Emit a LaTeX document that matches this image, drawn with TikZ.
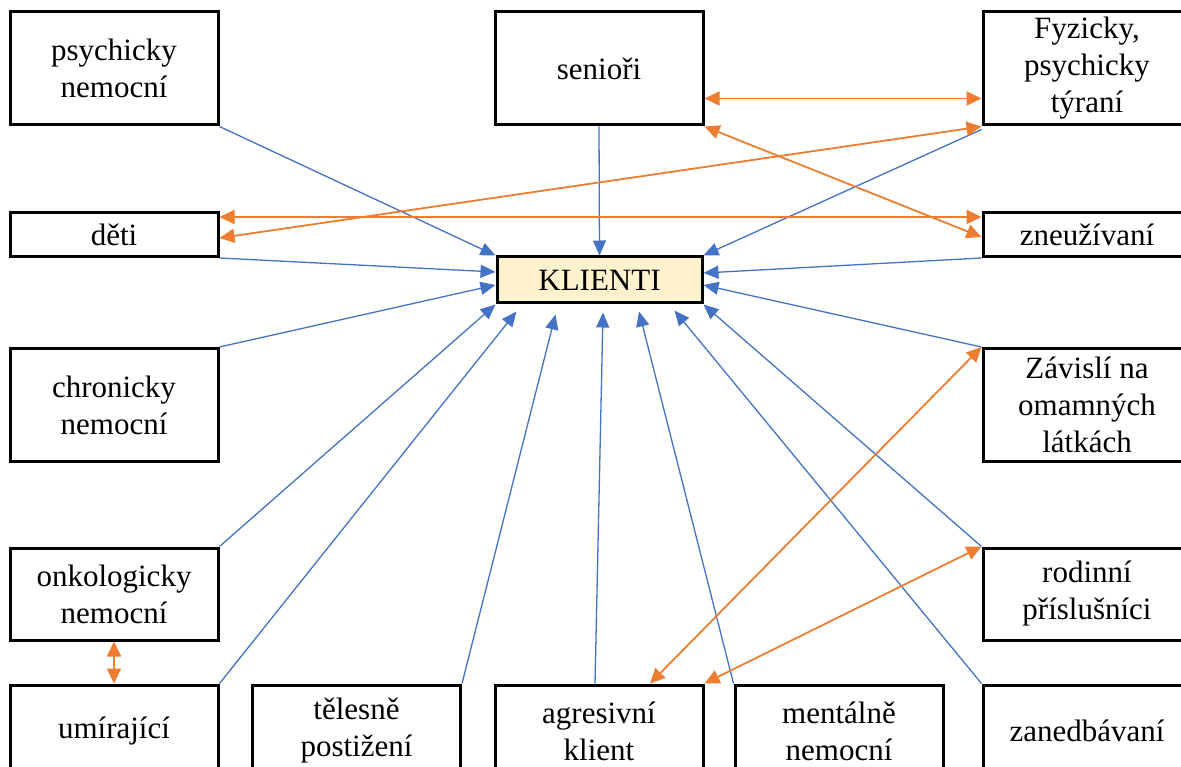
\documentclass[tikz,border=0pt]{standalone}
\usepackage{fontspec}
\setmainfont{Liberation Serif}
\usetikzlibrary{arrows.meta}
\definecolor{linkblue}{RGB}{68,114,196}
\definecolor{linkorange}{RGB}{237,125,49}
\definecolor{klientfill}{RGB}{255,242,204}
\begin{document}
\begin{tikzpicture}[x=1pt,y=-1pt,
box/.style={draw,rectangle,line width=3pt,inner sep=0pt,minimum width=208pt,minimum height=113pt,align=center,font=\fontsize{31}{37}\selectfont},
flatbox/.style={box,minimum height=44pt},
midbox/.style={box,minimum height=92pt},
toklient/.style={linkblue,line width=1.3pt,-{Triangle[length=15pt,width=13pt]}},
pair/.style={linkorange,line width=1.8pt,{Triangle[length=15pt,width=14pt]}-{Triangle[length=15pt,width=14pt]}}]

\useasboundingbox (0,0) rectangle (1181,767);
\clip (0,0) rectangle (1181,767);

\node[box] (psych) at (114,68.5) {psychicky\\nemocní};
\node[box] (senior) at (599,68.5) {senioři};
\node[box] (fyz) at (1087,68.5) {Fyzicky,\\psychicky\\týraní};
\node[flatbox] (deti) at (114,234.5) {děti};
\node[flatbox] (zneuz) at (1087,234.5) {zneužívaní};
\node[flatbox,minimum width=205pt,minimum height=46pt,fill=klientfill] (klient) at (599.5,280) {KLIENTI};
\node[box] (chron) at (114,405) {chronicky\\nemocní};
\node[box] (zavisli) at (1087,405) {Závislí na\\omamných\\látkách};
\node[midbox] (onko) at (114,594) {onkologicky\\nemocní};
\node[midbox] (rodin) at (1087,594) {rodinní\\příslušníci};
\node[midbox] (umir) at (114,731) {umírající};
\node[midbox] (teles) at (356.5,731) {tělesně\\postižení};
\node[midbox] (agres) at (599,731) {agresivní\\klient};
\node[midbox] (mental) at (839,731) {mentálně\\nemocní};
\node[midbox] (zaned) at (1087,731) {zanedbávaní};

\draw[toklient] (psych.south east) -- (klient.north west);
\draw[toklient] (senior.south) -- (klient.north);
\draw[toklient] ([shift={(0,3)}]fyz.south west) -- (klient.north east);
\draw[toklient] (zneuz.south west) -- ([shift={(0,-7)}]klient.east);
\draw[toklient] (deti.south east) -- ([shift={(0,-8)}]klient.west);
\draw[toklient] (chron.north east) -- ([shift={(0,5)}]klient.west);
\draw[toklient] (zavisli.north west) -- ([shift={(0,5)}]klient.east);
\draw[toklient] (onko.north east) -- (klient.south west);
\draw[toklient] (rodin.north west) -- (klient.south east);
\draw[toklient] (umir.north east) -- ([shift={(21,7)}]klient.south west);
\draw[toklient] (teles.north east) -- ([shift={(60,10)}]klient.south west);
\draw[toklient] ([shift={(-4,0)}]agres.north) -- ([shift={(3.5,8)}]klient.south);
\draw[toklient] (mental.north west) -- ([shift={(39.5,7)}]klient.south);
\draw[toklient] (zaned.north west) -- ([shift={(-29,6)}]klient.south east);

\draw[pair] ([shift={(0,30)}]senior.east) -- ([shift={(0,30)}]fyz.west);
\draw[pair] (senior.south east) -- ([shift={(0,2.5)}]zneuz.west);
\draw[pair] ([shift={(0,3.5)}]deti.east) -- (fyz.south west);
\draw[pair] ([shift={(0,-17.5)}]deti.east) -- ([shift={(0,-17.5)}]zneuz.west);
\draw[pair] (onko.south) -- (umir.north);
\draw[pair] (zavisli.north west) -- ([shift={(51,0)}]agres.north);
\draw[pair] (rodin.north west) -- (agres.north east);

\end{tikzpicture}
\end{document}
